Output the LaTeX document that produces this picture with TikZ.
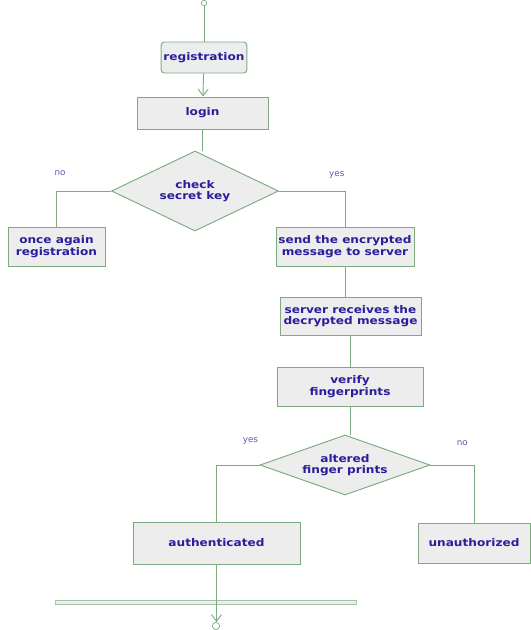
\documentclass[tikz,border=0pt]{standalone}
\usepackage{fontspec}
\setmainfont{DejaVu Sans}
\newfontfamily\flowfont[FakeStretch=1.15]{DejaVu Sans}
\usepackage{tikz}
\usetikzlibrary{arrows.meta,positioning,shapes.geometric}
\definecolor{FlowGreen}{HTML}{7DAA80}
\definecolor{FlowFill}{HTML}{EDEDED}
\definecolor{FlowText}{HTML}{2A1E9C}
\definecolor{FlowLabel}{HTML}{5A5AB4}
\tikzset{
  stepbox/.style={draw=FlowGreen,fill=FlowFill,line width=0.8pt,align=center,inner sep=2pt,font=\flowfont\fontsize{9}{10}\selectfont\bfseries,text=FlowText},
  decisionnode/.style={diamond,draw=FlowGreen,fill=FlowFill,line width=0.8pt,align=center,inner sep=0pt,font=\flowfont\fontsize{9}{9.5}\selectfont\bfseries,text=FlowText},
  terminal/.style={circle,draw=FlowGreen,fill=white,line width=0.6pt,inner sep=0pt,minimum size=2mm},
  flowline/.style={draw=FlowGreen,line width=0.8pt},
  flowarrow/.style={flowline,-{Straight Barb[length=2mm,width=3mm]}},
  branchlabel/.style={font=\fontsize{7.5}{8}\selectfont,text=FlowLabel,anchor=south}
}
\begin{document}
\begin{tikzpicture}[x=0.03cm,y=-0.03cm]
\useasboundingbox (0,0) rectangle (531,630);
\node[terminal,minimum size=1.6mm] (start) at (204,3) {};
\node[stepbox,rounded corners=1mm,minimum width=2.52cm,minimum height=0.93cm] (reg) at (204,57.5) {registration};
\node[stepbox,minimum width=3.93cm,minimum height=0.96cm] (login) at (202.5,113) {login};
\node[decisionnode,aspect=2.09,minimum width=5.01cm,minimum height=2.4cm] (check) at (195,191) {check\\secret key};
\node[stepbox,minimum width=2.91cm,minimum height=1.17cm] (again) at (56.5,246.5) {once again\\registration};
\node[stepbox,minimum width=4.14cm,minimum height=1.17cm] (send) at (345,246.5) {send the encrypted\\message to server};
\node[stepbox,minimum width=4.23cm,minimum height=1.14cm] (recv) at (350.5,316) {server receives the\\decrypted message};
\node[stepbox,minimum width=4.38cm,minimum height=1.17cm] (verify) at (350,386.5) {verify\\fingerprints};
\node[decisionnode,aspect=2.83,minimum width=5.1cm,minimum height=1.8cm] (altered) at (345,465) {altered\\finger prints};
\node[stepbox,minimum width=5.01cm,minimum height=1.26cm] (auth) at (216.5,543) {authenticated};
\node[stepbox,minimum width=3.36cm,minimum height=1.2cm] (unauth) at (474,543) {unauthorized};
\node[draw=FlowGreen!70,fill=FlowFill,line width=0.5pt,minimum width=9.03cm,minimum height=0.12cm,inner sep=0pt] (bar) at (205.5,602) {};
\node[terminal,minimum size=2.2mm] (stop) at (216,626) {};
% main line
\draw[flowline] (start) -- (reg);
\draw[flowarrow] (reg) -- (login);
\draw[flowline] (login.south) -- (login.south |- check.north);
% secret key check
\draw[flowline] (check.west) -| node[branchlabel,pos=0.5,yshift=9pt,xshift=3pt] {no} (again.north);
\draw[flowline] (check.east) -| node[branchlabel,pos=0.5,yshift=7pt,xshift=-7pt] {yes} (send.north);
\draw[flowline] (send.south) -- (send.south |- recv.north);
\draw[flowline] (recv.south) -- (recv.south |- verify.north);
\draw[flowline] (verify.south) -- (verify.south |- altered.north);
% fingerprint check
\draw[flowline] (altered.west) -| node[branchlabel,pos=0.5,yshift=14pt,xshift=29pt] {yes} (auth.north);
\draw[flowline] (altered.east) -| node[branchlabel,pos=0.5,yshift=13pt,xshift=-10pt] {no} (unauth.north);
\draw[flowarrow] (auth.south) -- (auth.south |- stop.north);
\end{tikzpicture}
\end{document}
